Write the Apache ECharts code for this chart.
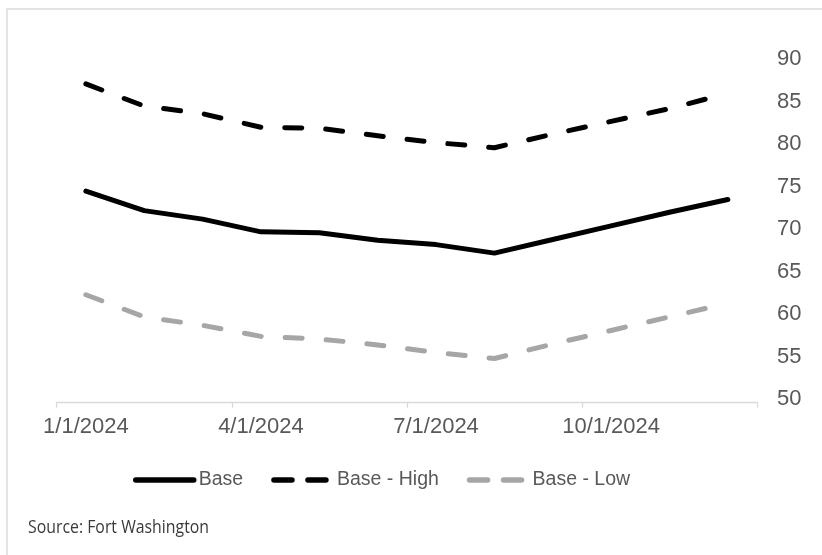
<!DOCTYPE html>
<html>
<head>
<meta charset="utf-8">
<title>Base scenario with high and low bands, 2024</title>
<script src="https://cdn.jsdelivr.net/npm/echarts@6/dist/echarts.min.js"></script>
<style>
  html, body { margin: 0; padding: 0; background: #ffffff; }
  #chart { width: 822px; height: 555px; }
</style>
</head>
<body>
<div id="chart"></div>
<script>
// Monthly observations, January to December 2024
const months = ['1/1/2024', '2/1/2024', '3/1/2024', '4/1/2024', '5/1/2024', '6/1/2024',
                '7/1/2024', '8/1/2024', '9/1/2024', '10/1/2024', '11/1/2024', '12/1/2024'];

const baseValues = [74.9, 72.6, 71.6, 70.1, 70.0, 69.1, 68.6, 67.6, 69.2, 70.8, 72.4, 73.9];
const highValues = [87.5, 84.9, 84.0, 82.4, 82.3, 81.4, 80.6, 80.0, 81.6, 83.1, 84.6, 86.4];
const lowValues  = [62.7, 60.1, 59.1, 57.8, 57.5, 56.8, 55.9, 55.2, 56.9, 58.5, 60.1, 61.7];

const seriesNames = ['Base', 'Base - High', 'Base - Low'];
const yTicks = { min: 50, max: 90, step: 5 };
const sourceNote = 'Source: Fort Washington';

const textGray = '#595959';
const axisGray = '#d9d9d9';
const lowGray = '#a6a6a6';
const dashPattern = [17, 24];
const legendDash = [18, 16];

const chart = echarts.init(document.getElementById('chart'), null, { renderer: 'canvas' });

function lineSeries(name, values, color, dash) {
  return {
    name: name,
    type: 'line',
    data: values,
    symbol: 'none',
    smooth: false,
    lineStyle: {
      color: color,
      width: 5,
      type: dash || 'solid',
      cap: 'round',
      join: 'round'
    },
    itemStyle: { color: color },
    emphasis: { disabled: true }
  };
}

// Legend entries show only the line stroke, no marker
function legendEntry(name, dash) {
  return {
    name: name,
    itemStyle: { opacity: 0 },
    lineStyle: { width: 5.5, type: dash || 'solid', cap: 'round' }
  };
}

chart.setOption({
  animation: false,
  backgroundColor: '#ffffff',
  textStyle: { fontFamily: '"Liberation Sans", Arial, sans-serif' },
  grid: {
    left: 56.7,
    right: 65,
    top: 62.7,
    bottom: 152.3,
    containLabel: false
  },
  xAxis: {
    type: 'category',
    data: months,
    boundaryGap: true,
    axisLine: { show: true, lineStyle: { color: axisGray, width: 1.3 } },
    axisTick: { show: true, interval: 2, length: 5, lineStyle: { color: axisGray, width: 1.3 } },
    axisLabel: {
      interval: 2,
      fontSize: 22,
      color: textGray,
      margin: 13,
      fontFamily: '"Liberation Sans", Arial, sans-serif'
    },
    splitLine: { show: false }
  },
  yAxis: {
    type: 'value',
    position: 'right',
    min: yTicks.min,
    max: yTicks.max,
    interval: yTicks.step,
    axisLine: { show: false },
    axisTick: { show: false },
    splitLine: { show: false },
    axisLabel: {
      color: textGray,
      margin: 20,
      // value labels sit slightly above their tick positions
      formatter: function (v) { return '{v|' + v + '}'; },
      rich: {
        v: {
          fontSize: 22,
          color: textGray,
          padding: [0, 0, 7, 0],
          fontFamily: '"Liberation Sans", Arial, sans-serif'
        }
      }
    }
  },
  legend: {
    left: 128,
    top: 465,
    itemWidth: 58,
    itemHeight: 14,
    itemGap: 28,
    itemStyle: { opacity: 0 },
    textStyle: { fontSize: 19.5, color: textGray, fontFamily: '"Liberation Sans", Arial, sans-serif' },
    data: [
      legendEntry(seriesNames[0]),
      legendEntry(seriesNames[1], legendDash),
      legendEntry(seriesNames[2], legendDash)
    ],
    selectedMode: false
  },
  graphic: [
    {
      type: 'polyline',
      shape: { points: [[7, 555], [7, 9], [822, 9]] },
      style: { stroke: '#e6e2de', lineWidth: 2, fill: null },
      silent: true
    },
    {
      type: 'text',
      left: 28,
      top: 518,
      scaleX: 0.834,
      style: {
        text: sourceNote,
        fontSize: 19,
        fill: '#3a3a3a',
        fontFamily: '"Open Sans", "Noto Sans", sans-serif'
      },
      silent: true
    }
  ],
  series: [
    lineSeries(seriesNames[0], baseValues, '#000000'),
    lineSeries(seriesNames[1], highValues, '#000000', dashPattern),
    lineSeries(seriesNames[2], lowValues, lowGray, dashPattern)
  ]
});
</script>
</body>
</html>
